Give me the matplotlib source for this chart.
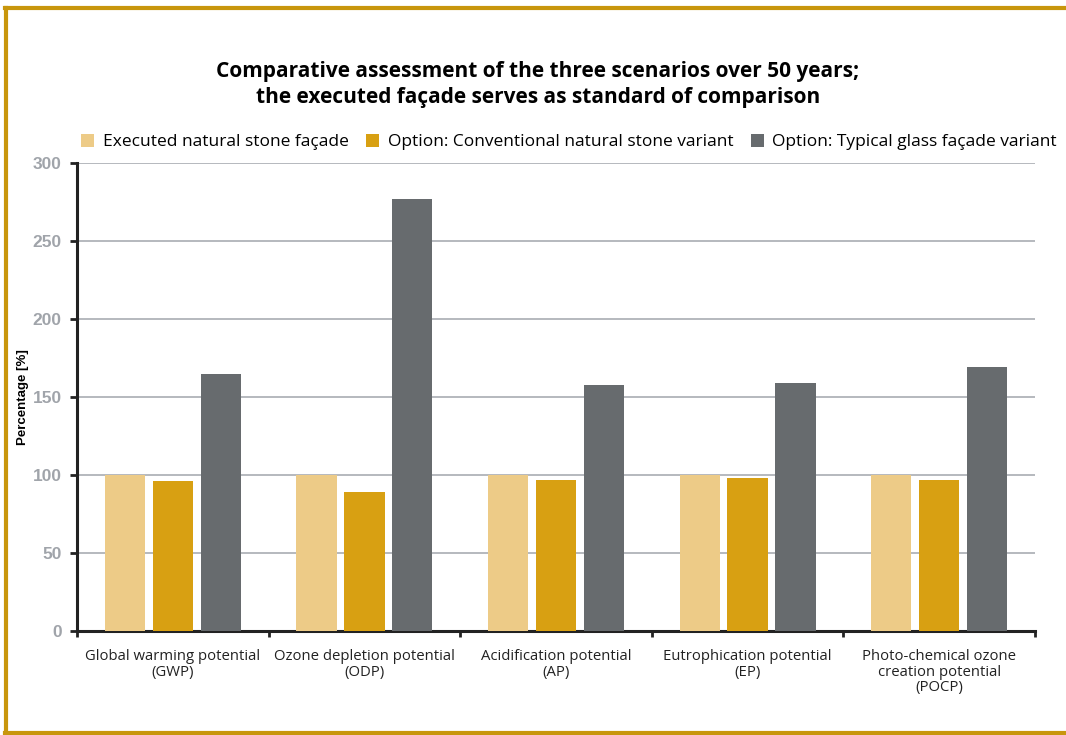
import matplotlib
matplotlib.use("Agg")
import matplotlib.pyplot as plt
import numpy as np

categories = ["Global warming potential\n(GWP)", "Ozone depletion potential\n(ODP)",
              "Acidification potential\n(AP)", "Eutrophication potential\n(EP)",
              "Photo-chemical ozone\ncreation potential\n(POCP)"]
series_names = ["Executed natural stone façade",
                "Option: Conventional natural stone variant",
                "Option: Typical glass façade variant"]
executed = [100, 100, 100, 100, 100]
conventional = [96, 89, 97, 98, 97]
glass = [165, 277, 158, 159, 169]
yticks = [0, 50, 100, 150, 200, 250, 300]

colors = ["#EDCB87", "#D8A012", "#676B6E"]

W, H = 1066, 735
fig = plt.figure(figsize=(W/100, H/100), dpi=100)
fig.patch.set_facecolor("white")

# gold frame
border = "#C8960C"
fig.add_artist(plt.Line2D([6/W, 6/W], [1-8/H, 1-733/H], color=border, lw=3, transform=fig.transFigure))
fig.add_artist(plt.Line2D([5/W, 1.0], [1-8/H, 1-8/H], color=border, lw=3, transform=fig.transFigure))
fig.add_artist(plt.Line2D([5/W, 1.0], [1-733/H, 1-733/H], color=border, lw=3, transform=fig.transFigure))

left, right, top, bottom = 77, 1035, 163, 631
ax = fig.add_axes([left/W, 1-bottom/H, (right-left)/W, (bottom-top)/H])

x = np.arange(len(categories))
bw = 0.21
off = 0.25
for i, (vals, c) in enumerate(zip([executed, conventional, glass], colors)):
    ax.bar(x + (i-1)*off, vals, width=bw, color=c, zorder=3, label=series_names[i])

ax.set_xlim(-0.5, len(categories)-0.5)
ax.set_ylim(0, 300)
ax.set_yticks(yticks)
ax.set_yticklabels([str(v) for v in yticks], fontsize=12.5, fontweight="bold", color="#A0A4AA",
                   family="Liberation Sans")
ax.yaxis.grid(True, color="#A9ADB3", lw=1.2, zorder=0)
ax.set_axisbelow(True)

ax.set_xticks(np.arange(len(categories)+1) - 0.5, minor=False)
ax.set_xticklabels([])
ax.set_xticks(x, minor=True)
ax.set_xticklabels(categories, minor=True, fontsize=10.7, color="#222222", family="Open Sans",
                   linespacing=1.05)
ax.tick_params(axis="x", which="minor", length=0, pad=13)
ax.tick_params(axis="x", which="major", length=4, width=2, color="#222222", direction="out")
ax.tick_params(axis="y", length=5, width=2, color="#222222", pad=6)

for s in ["top", "right"]:
    ax.spines[s].set_visible(False)
ax.spines["left"].set_linewidth(2.2)
ax.spines["left"].set_color("#222222")
ax.spines["bottom"].set_linewidth(2.2)
ax.spines["bottom"].set_color("#222222")

ax.set_ylabel("Percentage [%]", fontsize=9.5, fontweight="bold", family="Liberation Sans",
              color="black")
ax.yaxis.set_label_coords(-(77-29)/(right-left), 0.5)

fig.text(538/W, 1-72/H, "Comparative assessment of the three scenarios over 50 years;",
         ha="center", va="center", fontsize=15, fontweight="bold", family="Open Sans")
fig.text(538/W, 1-98/H, "the executed façade serves as standard of comparison",
         ha="center", va="center", fontsize=15, fontweight="bold", family="Open Sans")

leg = fig.legend(loc="center", bbox_to_anchor=(569/W, 1-142/H), ncol=3, frameon=False,
                 prop={"family": "Open Sans", "size": 12.5},
                 handlelength=0.75, handleheight=0.75, handletextpad=0.5, columnspacing=1.0)

fig.savefig("out.png", dpi=100, facecolor="white")
